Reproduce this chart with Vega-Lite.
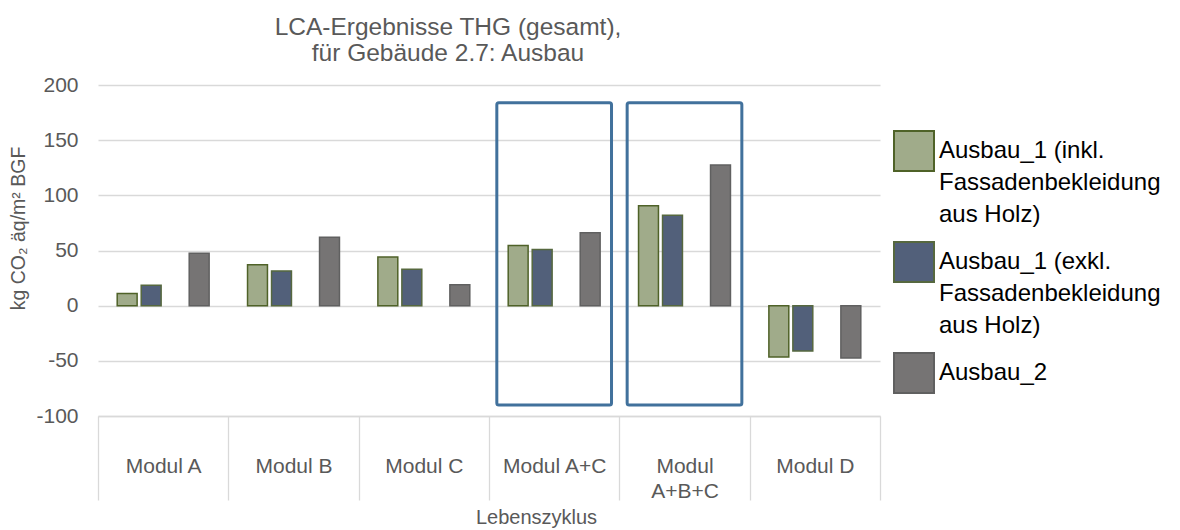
{
  "$schema": "https://vega.github.io/schema/vega-lite/v6.json",
  "width": 782,
  "height": 331,
  "autosize": {"type": "none"},
  "padding": {"left": 98, "top": 85, "right": 300, "bottom": 114},
  "background": "white",
  "title": {
    "text": ["LCA-Ergebnisse THG (gesamt),", "für Gebäude 2.7: Ausbau"],
    "anchor": "middle",
    "dx": -41,
    "fontSize": 24.5,
    "font": "Liberation Sans",
    "fontWeight": "normal",
    "color": "#595959",
    "lineHeight": 26,
    "offset": 8
  },
  "datasets": {
    "bars": [
      {"modul": "Modul A", "serie": "Ausbau_1 (inkl. Fassadenbekleidung aus Holz)", "wert": 11},
      {"modul": "Modul A", "serie": "Ausbau_1 (exkl. Fassadenbekleidung aus Holz)", "wert": 18.5},
      {"modul": "Modul A", "serie": "Ausbau_2", "wert": 47.5},
      {"modul": "Modul B", "serie": "Ausbau_1 (inkl. Fassadenbekleidung aus Holz)", "wert": 37},
      {"modul": "Modul B", "serie": "Ausbau_1 (exkl. Fassadenbekleidung aus Holz)", "wert": 31.5},
      {"modul": "Modul B", "serie": "Ausbau_2", "wert": 62},
      {"modul": "Modul C", "serie": "Ausbau_1 (inkl. Fassadenbekleidung aus Holz)", "wert": 44},
      {"modul": "Modul C", "serie": "Ausbau_1 (exkl. Fassadenbekleidung aus Holz)", "wert": 33},
      {"modul": "Modul C", "serie": "Ausbau_2", "wert": 19},
      {"modul": "Modul A+C", "serie": "Ausbau_1 (inkl. Fassadenbekleidung aus Holz)", "wert": 54.5},
      {"modul": "Modul A+C", "serie": "Ausbau_1 (exkl. Fassadenbekleidung aus Holz)", "wert": 51},
      {"modul": "Modul A+C", "serie": "Ausbau_2", "wert": 66},
      {"modul": "Modul A+B+C", "serie": "Ausbau_1 (inkl. Fassadenbekleidung aus Holz)", "wert": 90.5},
      {"modul": "Modul A+B+C", "serie": "Ausbau_1 (exkl. Fassadenbekleidung aus Holz)", "wert": 82},
      {"modul": "Modul A+B+C", "serie": "Ausbau_2", "wert": 127.5},
      {"modul": "Modul D", "serie": "Ausbau_1 (inkl. Fassadenbekleidung aus Holz)", "wert": -46.5},
      {"modul": "Modul D", "serie": "Ausbau_1 (exkl. Fassadenbekleidung aus Holz)", "wert": -41},
      {"modul": "Modul D", "serie": "Ausbau_2", "wert": -47.5}
    ],
    "boxes": [
      {"modul": "Modul A+C", "oben": 184, "unten": -90},
      {"modul": "Modul A+B+C", "oben": 184, "unten": -90}
    ]
  },
  "layer": [
    {
      "data": {"name": "bars"},
      "mark": {"type": "bar", "strokeWidth": 1.5},
      "encoding": {
        "x": {
          "field": "modul",
          "type": "nominal",
          "sort": ["Modul A", "Modul B", "Modul C", "Modul A+C", "Modul A+B+C", "Modul D"],
          "scale": {"paddingInner": 0, "paddingOuter": 0},
          "title": "Lebenszyklus",
          "axis": {"labelExpr": "datum.value == 'Modul A+B+C' ? ['Modul', 'A+B+C'] : datum.value"}
        },
        "xOffset": {
          "field": "serie",
          "type": "nominal",
          "scale": {
            "domain": ["Ausbau_1 (inkl. Fassadenbekleidung aus Holz)", "Ausbau_1 (exkl. Fassadenbekleidung aus Holz)", "leer", "Ausbau_2"],
            "paddingInner": 0.17,
            "paddingOuter": 0.8
          }
        },
        "y": {
          "field": "wert",
          "type": "quantitative",
          "scale": {"domain": [-100, 200], "nice": false},
          "title": "kg CO₂ äq/m² BGF",
          "axis": {"values": [-100, -50, 0, 50, 100, 150, 200], "labelExpr": "toString(datum.value)"}
        },
        "fill": {
          "field": "serie",
          "type": "nominal",
          "scale": {
            "domain": ["Ausbau_1 (inkl. Fassadenbekleidung aus Holz)", "Ausbau_1 (exkl. Fassadenbekleidung aus Holz)", "Ausbau_2"],
            "range": ["#A0AB8A", "#52607A", "#767474"]
          },
          "legend": {
            "title": null,
            "orient": "none",
            "legendX": 795,
            "legendY": 45,
            "labelExpr": "datum.label == 'Ausbau_2' ? datum.label : [slice(datum.label, 0, 15), 'Fassadenbekleidung', 'aus Holz)']"
          }
        },
        "stroke": {
          "field": "serie",
          "type": "nominal",
          "scale": {
            "domain": ["Ausbau_1 (inkl. Fassadenbekleidung aus Holz)", "Ausbau_1 (exkl. Fassadenbekleidung aus Holz)", "Ausbau_2"],
            "range": ["#4F6228", "#56683F", "#606060"]
          },
          "legend": {
            "title": null,
            "orient": "none",
            "legendX": 795,
            "legendY": 45,
            "labelExpr": "datum.label == 'Ausbau_2' ? datum.label : [slice(datum.label, 0, 15), 'Fassadenbekleidung', 'aus Holz)']"
          }
        }
      }
    },
    {
      "data": {"name": "boxes"},
      "mark": {"type": "bar", "width": {"band": 0.88}, "fill": "white", "fillOpacity": 0, "stroke": "#41719C", "strokeWidth": 3, "cornerRadius": 2},
      "encoding": {
        "x": {
          "field": "modul",
          "type": "nominal",
          "sort": ["Modul A", "Modul B", "Modul C", "Modul A+C", "Modul A+B+C", "Modul D"],
          "title": "Lebenszyklus"
        },
        "y": {"field": "oben", "type": "quantitative", "title": "kg CO₂ äq/m² BGF"},
        "y2": {"field": "unten"}
      }
    }
  ],
  "config": {
    "view": {"stroke": null},
    "font": "Liberation Sans",
    "style": {"guide-label": {"lineHeight": 32}},
    "axisX": {
      "domainColor": "#D9D9D9",
      "domainWidth": 1.3,
      "tickColor": "#D9D9D9",
      "tickWidth": 1.3,
      "tickSize": 84,
      "tickBand": "extent",
      "labelAngle": 0,
      "labelPadding": -45,
      "labelBaseline": "top",
      "labelFontSize": 21,
      "labelColor": "#595959",
      "labelFont": "Liberation Sans",
      "labelLineHeight": 25,
      "titleFont": "Liberation Sans",
      "titleFontSize": 20,
      "titleFontWeight": "normal",
      "titleColor": "#595959",
      "titleX": 438,
      "titleY": 91,
      "titleBaseline": "top",
      "grid": false
    },
    "axisY": {
      "grid": true,
      "gridColor": "#D9D9D9",
      "gridWidth": 1.3,
      "domain": false,
      "ticks": false,
      "labelPadding": 20,
      "labelFontSize": 21,
      "labelColor": "#595959",
      "labelFont": "Liberation Sans",
      "titleFont": "Liberation Sans",
      "titleFontSize": 19.5,
      "titleFontWeight": "normal",
      "titleColor": "#595959",
      "titleX": -80,
      "titleY": 143,
      "titleAngle": -90,
      "titleBaseline": "middle",
      "titleAlign": "center"
    },
    "legend": {
      "padding": 0,
      "symbolType": "square",
      "symbolSize": 1600,
      "symbolStrokeWidth": 2,
      "symbolOffset": 0,
      "labelOffset": 4,
      "labelFontSize": 24,
      "labelFont": "Liberation Sans",
      "labelColor": "#000000",
      "labelLimit": 300,
      "labelBaseline": "middle",
      "rowPadding": 11
    }
  }
}
